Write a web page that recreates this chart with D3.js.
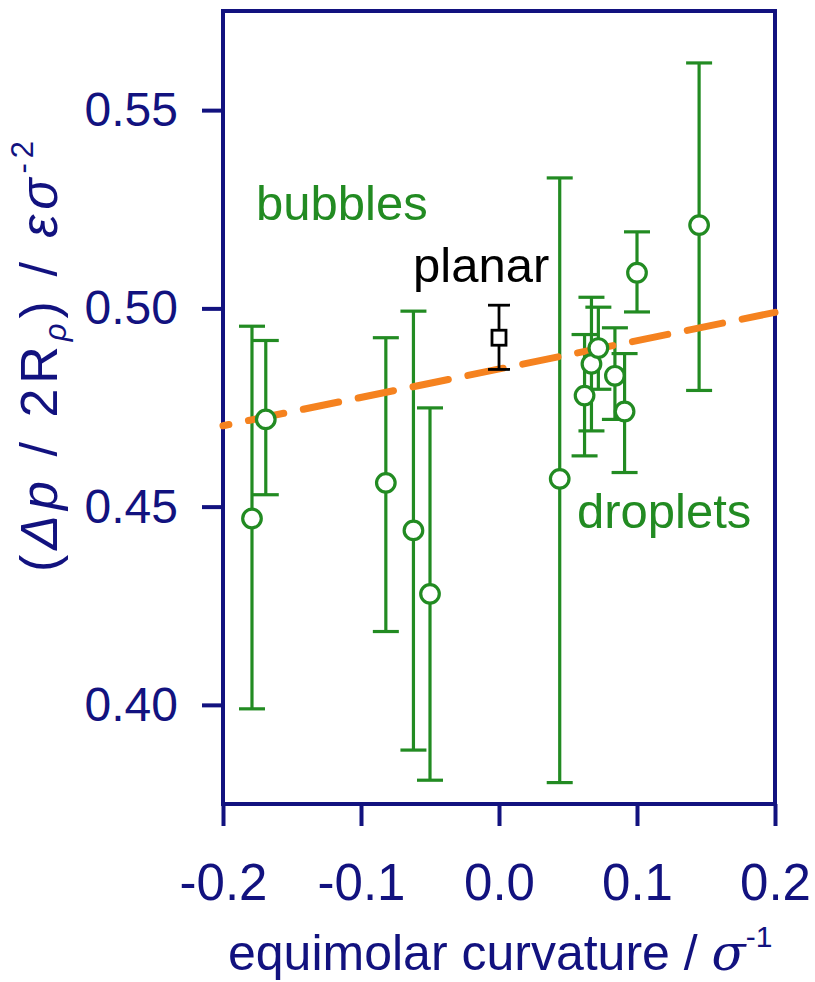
<!DOCTYPE html>
<html><head><meta charset="utf-8">
<script src="https://cdn.jsdelivr.net/npm/d3@7/dist/d3.min.js"></script>
<style>body{margin:0;background:#fff}svg{display:block}</style>
</head><body><svg id="c" width="815" height="982"></svg>
<script>
// ---- data ----
const curvature = [-0.179, -0.169, -0.082, -0.062, -0.050, 0.044, 0.062, 0.067, 0.072, 0.084, 0.091, 0.100, 0.145];
const pressure  = [0.447, 0.472, 0.456, 0.444, 0.428, 0.457, 0.478, 0.486, 0.490, 0.483, 0.474, 0.509, 0.521];
const errLow    = [0.399, 0.453, 0.4185, 0.3886, 0.381, 0.3804, 0.4628, 0.4691, 0.4796, 0.4720, 0.4586, 0.4991, 0.4793];
const errHigh   = [0.4955, 0.4919, 0.4926, 0.4993, 0.4749, 0.5329, 0.4934, 0.5028, 0.5003, 0.4951, 0.4886, 0.5193, 0.5619];
const planarX = [0.0];
const planarY = [0.4926];
const planarLow = [0.4846];
const planarHigh = [0.5008];
const fitX = [-0.2, 0.2];
const fitY = [0.4704, 0.4990];
const xTicks = [-0.2, -0.1, 0.0, 0.1, 0.2];
const yTicks = [0.40, 0.45, 0.50, 0.55];

const NAVY = "#12127f", GREEN = "#228b22", ORANGE = "#f5821f";
const svg = d3.select("#c");
const L = 223, R = 775, T = 11, B = 804;
const x = d3.scaleLinear().domain([-0.2, 0.2]).range([L, R]);
const y = d3.scaleLinear().domain([0.375, 0.575]).range([B, T]);
const hyph = f => v => f(v).replace("\u2212", "-");

// axes
const yAxis = svg.append("g").attr("transform", `translate(${L},0)`)
  .call(d3.axisLeft(y).tickValues(yTicks).tickFormat(hyph(d3.format(".2f"))).tickSize(21).tickPadding(24));
const xAxis = svg.append("g").attr("transform", `translate(0,${B})`)
  .call(d3.axisBottom(x).tickValues(xTicks).tickFormat(hyph(d3.format(".1f"))).tickSize(22).tickPadding(38));
[yAxis, xAxis].forEach(a => {
  a.select(".domain").remove();
  a.selectAll(".tick line").attr("stroke", NAVY).attr("stroke-width", 4);
  a.selectAll(".tick text").attr("fill", NAVY).attr("font-family", "Liberation Sans, Arial, sans-serif");
});
yAxis.selectAll(".tick text").attr("font-size", 48);
xAxis.selectAll(".tick text").attr("font-size", 51);

svg.append("rect").attr("x", L).attr("y", T).attr("width", R - L).attr("height", B - T)
  .attr("fill", "none").attr("stroke", NAVY).attr("stroke-width", 4);

const data = curvature.map((c, i) => ({c, p: pressure[i], lo: errLow[i], hi: errHigh[i]}));
const cap = 13;

// error bars
const eb = svg.append("g").attr("stroke", GREEN).attr("stroke-width", 3.2).attr("fill", "none");
data.forEach(d => {
  eb.append("line").attr("x1", x(d.c)).attr("x2", x(d.c)).attr("y1", y(d.lo)).attr("y2", y(d.hi));
  eb.append("line").attr("x1", x(d.c) - cap).attr("x2", x(d.c) + cap).attr("y1", y(d.lo)).attr("y2", y(d.lo));
  eb.append("line").attr("x1", x(d.c) - cap).attr("x2", x(d.c) + cap).attr("y1", y(d.hi)).attr("y2", y(d.hi));
});

// fit line
svg.append("path")
  .datum(fitX.map((v, i) => [v, fitY[i]]))
  .attr("d", d3.line().x(d => x(d[0])).y(d => y(d[1])))
  .attr("stroke", ORANGE).attr("stroke-width", 7).attr("fill", "none")
  .attr("stroke-linecap", "round").attr("stroke-dasharray", "36,20").attr("stroke-dashoffset", 30);

// circles
svg.append("g").selectAll("circle").data(data).join("circle")
  .attr("cx", d => x(d.c)).attr("cy", d => y(d.p)).attr("r", 9.3)
  .attr("fill", "#fff").attr("stroke", GREEN).attr("stroke-width", 3.2);

// planar
const pl = svg.append("g").attr("stroke", "#000").attr("stroke-width", 2.8).attr("fill", "none");
planarX.forEach((px, i) => {
  pl.append("line").attr("x1", x(px)).attr("x2", x(px)).attr("y1", y(planarLow[i])).attr("y2", y(planarHigh[i]));
  pl.append("line").attr("x1", x(px) - 11).attr("x2", x(px) + 11).attr("y1", y(planarLow[i])).attr("y2", y(planarLow[i]));
  pl.append("line").attr("x1", x(px) - 11).attr("x2", x(px) + 11).attr("y1", y(planarHigh[i])).attr("y2", y(planarHigh[i]));
  pl.append("rect").attr("x", x(px) - 7).attr("y", y(planarY[i]) - 7.5).attr("width", 14).attr("height", 15).attr("fill", "#fff");
});

// annotations
const F = "Liberation Sans, Arial, sans-serif";
svg.append("text").attr("x", 256).attr("y", 220).attr("fill", GREEN).attr("font-family", F).attr("font-size", 49).text("bubbles");
svg.append("text").attr("x", 413).attr("y", 282).attr("fill", "#000").attr("font-family", F).attr("font-size", 49).text("planar");
svg.append("text").attr("x", 577).attr("y", 528).attr("fill", GREEN).attr("font-family", F).attr("font-size", 49).text("droplets");

// x title
const xt = svg.append("text").attr("x", 228).attr("y", 970).attr("fill", NAVY).attr("font-family", F).attr("font-size", 50);
xt.append("tspan").text("equimolar curvature /  ");
xt.append("tspan").attr("font-style", "italic").attr("font-family", "DejaVu Serif, serif").text("σ");
xt.append("tspan").attr("font-size", 30).attr("dy", -23).text("-1");

// y title
const yt = svg.append("text").attr("transform", "translate(57,354) rotate(-90)").attr("text-anchor", "middle")
  .attr("fill", NAVY).attr("font-family", F).attr("font-size", 52).attr("letter-spacing", 5);
yt.append("tspan").text("(");
yt.append("tspan").attr("font-style", "italic").text("Δp");
yt.append("tspan").text(" / 2R");
yt.append("tspan").attr("font-style", "italic").attr("font-size", 31).attr("dy", 9).text("ρ");
yt.append("tspan").attr("dy", -9).text(") / ");
yt.append("tspan").attr("font-style", "italic").text("εσ");
yt.append("tspan").attr("font-size", 31).attr("dy", -24).text("-2");
</script>
</body></html>
